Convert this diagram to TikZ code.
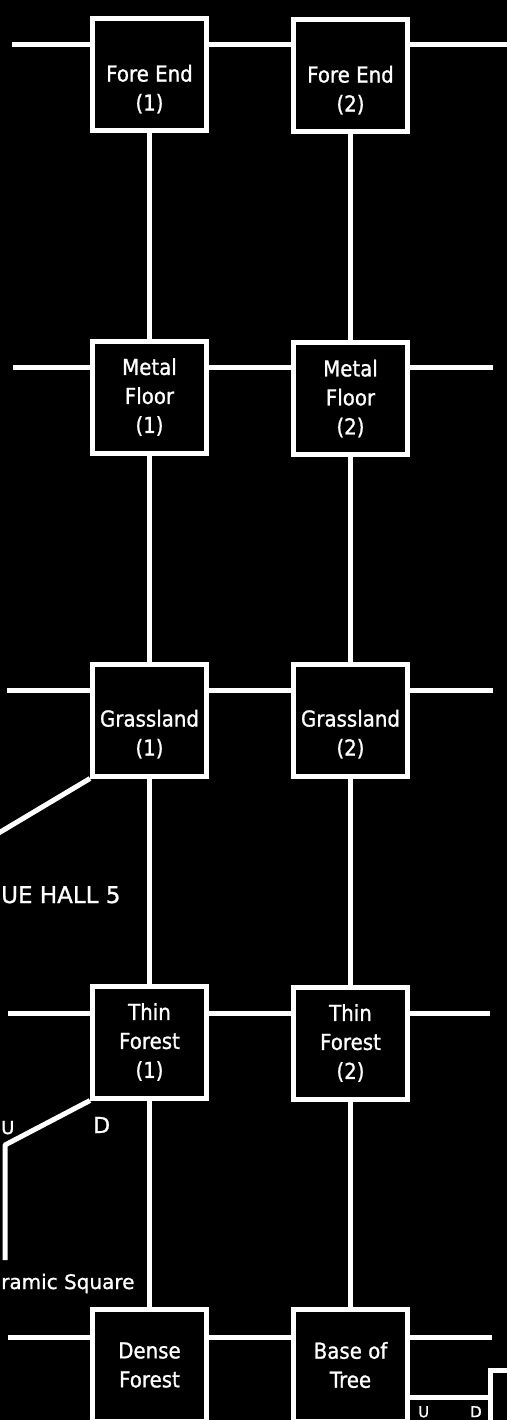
\documentclass[tikz,border=0pt]{standalone}
\usepackage{fontspec}
\newfontfamily\pix[FakeStretch=0.9,FakeBold=1]{DejaVu Sans}
\newfontfamily\pixw[FakeBold=1]{DejaVu Sans}
\begin{document}
\begin{tikzpicture}[x=1pt,y=1pt,
  room/.style={draw=white, line width=5pt, fill=black, minimum width=114pt,
    minimum height=112pt, inner sep=0pt, align=center, text=white,
    font=\pix\fontsize{22}{29}\selectfont},
  link/.style={draw=white, line width=5pt},
  lbl/.style={text=white, inner sep=0pt, font=\pixw\fontsize{22}{26}\selectfont},
  smalllbl/.style={text=white, inner sep=0pt, font=\pixw\fontsize{20}{24}\selectfont}]
\fill[black] (0,0) rectangle (507,-1420);
\useasboundingbox (0,0) rectangle (507,-1420);
\clip (0,0) rectangle (507,-1420);

% rooms
\node[room] (fe1) at (149.5,-75)     {\vphantom{X}\\Fore End\\(1)};
\node[room] (fe2) at (350.5,-76)     {\vphantom{X}\\Fore End\\(2)};
\node[room] (mf1) at (149.5,-397)    {Metal\\Floor\\(1)};
\node[room] (mf2) at (350.5,-398.5)  {Metal\\Floor\\(2)};
\node[room] (gl1) at (149.5,-720)    {\vphantom{X}\\Grassland\\(1)};
\node[room] (gl2) at (350.5,-720)    {\vphantom{X}\\Grassland\\(2)};
\node[room] (tf1) at (149.5,-1042)   {Thin\\Forest\\(1)};
\node[room] (tf2) at (350.5,-1043)   {Thin\\Forest\\(2)};
\node[room] (df)  at (149.5,-1365)   {Dense\\Forest};
\node[room] (bt)  at (350.5,-1365)   {Base of\\Tree};

% free ends
\coordinate (l1) at (12,-45);   \coordinate (r1) at (512,-45);
\coordinate (l2) at (13,-367);  \coordinate (r2) at (493,-367);
\coordinate (l3) at (7,-690);   \coordinate (r3) at (493,-690);
\coordinate (l4) at (8,-1013);  \coordinate (r4) at (490,-1013);
\coordinate (l5) at (8,-1337);  \coordinate (r5) at (492,-1337);

% horizontal links
\draw[link] (l1) -- (l1 -| fe1.west);
\draw[link] (l1 -| fe1.east) -- (l1 -| fe2.west);
\draw[link] (l1 -| fe2.east) -- (r1);
\draw[link] (l2) -- (l2 -| mf1.west);
\draw[link] (l2 -| mf1.east) -- (l2 -| mf2.west);
\draw[link] (l2 -| mf2.east) -- (r2);
\draw[link] (l3) -- (l3 -| gl1.west);
\draw[link] (l3 -| gl1.east) -- (l3 -| gl2.west);
\draw[link] (l3 -| gl2.east) -- (r3);
\draw[link] (l4) -- (l4 -| tf1.west);
\draw[link] (l4 -| tf1.east) -- (l4 -| tf2.west);
\draw[link] (l4 -| tf2.east) -- (r4);
\draw[link] (l5) -- (l5 -| df.west);
\draw[link] (l5 -| df.east) -- (l5 -| bt.west);
\draw[link] (l5 -| bt.east) -- (r5);

% vertical links
\draw[link] (fe1.south) -- (mf1.north);
\draw[link] (mf1.south) -- (gl1.north);
\draw[link] (gl1.south) -- (tf1.north);
\draw[link] (tf1.south) -- (df.north);
\draw[link] (fe2.south) -- (mf2.north);
\draw[link] (mf2.south) -- (gl2.north);
\draw[link] (gl2.south) -- (tf2.north);
\draw[link] (tf2.south) -- (bt.north);

% diagonals on the left
\coordinate (d1) at (-3,-834);
\draw[link] (gl1.south west) -- (d1);
\coordinate (d2) at (5,-1145);
\coordinate (d3) at (5,-1260);
\draw[link, line join=round] (tf1.south west) -- (d2) -- (d3);

% bottom right small room
\coordinate (b1) at (490,-1397);
\coordinate (b2) at (512,-1370);
\coordinate (b3) at (490,-1430);
\draw[link] (b1 -| bt.east) -- (b1);
\draw[link] (b2) -- (490,-1370) -- (b3);

% labels
\node[lbl, anchor=base west, font=\pixw\fontsize{23}{26}\selectfont] (hall) at (1,-903) {UE HALL 5};
\node[lbl, anchor=base west, font=\pixw\fontsize{18}{22}\selectfont] (u1) at (1,-1134) {U};
\node[lbl, anchor=base west] (dd1) at (93,-1133) {D};
\node[smalllbl, anchor=base west] (sq) at (1,-1289) {ramic Square};
\node[lbl, anchor=north west, font=\pixw\fontsize{15}{18}\selectfont] (u2) at (418,-1406) {U};
\node[lbl, anchor=north west, font=\pixw\fontsize{15}{18}\selectfont] (dd2) at (470,-1406) {D};
\end{tikzpicture}
\end{document}
